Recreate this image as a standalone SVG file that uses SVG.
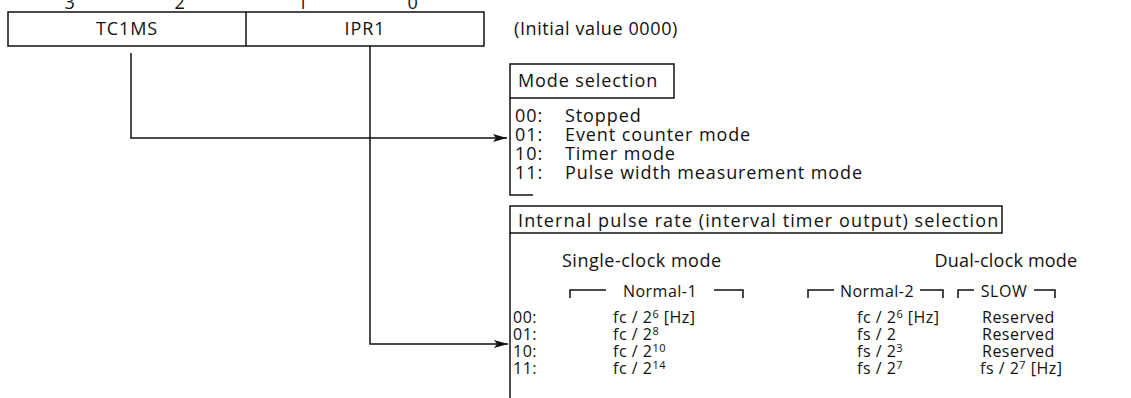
<svg xmlns="http://www.w3.org/2000/svg" width="1131" height="398" viewBox="0 0 1131 398">
<defs>
<style>
text{font-family:"Open Sans","DejaVu Sans",sans-serif;fill:#111;font-size:18px;letter-spacing:0.9px}
.sm{font-size:16px;letter-spacing:0.5px}
.box{fill:none;stroke:#111;stroke-width:1.5}
.ln{fill:none;stroke:#111;stroke-width:1.5}
.mid{text-anchor:middle}
</style>
<marker id="arr" viewBox="0 0 14 8" refX="14" refY="4" markerWidth="14" markerHeight="8" markerUnits="userSpaceOnUse" orient="auto">
<path d="M0,0 L14,4 L0,8 L3,4 z" fill="#111"/>
</marker>
</defs>
<rect width="1131" height="398" fill="#fff"/>

<g id="register">
<text class="mid" x="70" y="9">3</text>
<text class="mid" x="180" y="9">2</text>
<text class="mid" x="303" y="9">1</text>
<text class="mid" x="413" y="9">0</text>
<rect class="box" x="8" y="12" width="476" height="34"/>
<line class="ln" x1="246" y1="12" x2="246" y2="46"/>
<text class="mid" x="127" y="35">TC1MS</text>
<text class="mid" x="365" y="35">IPR1</text>
</g>

<g id="initial-value">
<text x="514" y="35" style="letter-spacing:0.6px">(Initial value 0000)</text>
</g>

<g id="connectors">
<path class="ln" d="M131,53 V138 H507" marker-end="url(#arr)"/>
<path class="ln" d="M370,46 V344 H508" marker-end="url(#arr)"/>
</g>

<g id="mode-selection">
<rect class="box" x="510" y="64" width="164" height="34"/>
<text x="518" y="87">Mode selection</text>
<path class="ln" d="M510,98 V195 H533"/>
<text x="515" y="122">00:</text><text x="565" y="122">Stopped</text>
<text x="515" y="141">01:</text><text x="565" y="141">Event counter mode</text>
<text x="515" y="160">10:</text><text x="565" y="160">Timer mode</text>
<text x="515" y="179">11:</text><text x="565" y="179">Pulse width measurement mode</text>
</g>

<g id="pulse-rate">
<rect class="box" x="510" y="206" width="492" height="27"/>
<text x="518" y="227" style="letter-spacing:1.1px">Internal pulse rate (interval timer output) selection</text>
<line class="ln" x1="510" y1="233" x2="510" y2="398"/>
<text x="562" y="267" style="letter-spacing:0.5px">Single-clock mode</text>
<text class="mid" x="1006" y="267" style="letter-spacing:0.2px">Dual-clock mode</text>

<path class="ln" d="M570,298 V290 H606 M714,290 H743 V298"/>
<text class="mid sm" x="660" y="297">Normal-1</text>
<path class="ln" d="M808,298 V290 H834 M920,290 H943 V298"/>
<text class="mid sm" x="877" y="297">Normal-2</text>
<path class="ln" d="M958,298 V290 H974 M1034,290 H1055 V298"/>
<text class="mid sm" x="1004" y="297">SLOW</text>

<text class="sm" x="513" y="323">00:</text>
<text class="sm" x="513" y="340">01:</text>
<text class="sm" x="513" y="357">10:</text>
<text class="sm" x="513" y="374">11:</text>

<text class="sm" x="613" y="323">fc / 2<tspan dy="-5" font-size="11">6</tspan><tspan dy="5"> [Hz]</tspan></text>
<text class="sm" x="613" y="340">fc / 2<tspan dy="-5" font-size="11">8</tspan></text>
<text class="sm" x="613" y="357">fc / 2<tspan dy="-5" font-size="11">10</tspan></text>
<text class="sm" x="613" y="374">fc / 2<tspan dy="-5" font-size="11">14</tspan></text>

<text class="sm" x="857" y="323">fc / 2<tspan dy="-5" font-size="11">6</tspan><tspan dy="5"> [Hz]</tspan></text>
<text class="sm" x="857" y="340">fs / 2</text>
<text class="sm" x="857" y="357">fs / 2<tspan dy="-5" font-size="11">3</tspan></text>
<text class="sm" x="857" y="374">fs / 2<tspan dy="-5" font-size="11">7</tspan></text>

<text class="sm" x="982" y="323">Reserved</text>
<text class="sm" x="982" y="340">Reserved</text>
<text class="sm" x="982" y="357">Reserved</text>
<text class="sm" x="980" y="374">fs / 2<tspan dy="-5" font-size="11">7</tspan><tspan dy="5"> [Hz]</tspan></text>
</g>
</svg>
